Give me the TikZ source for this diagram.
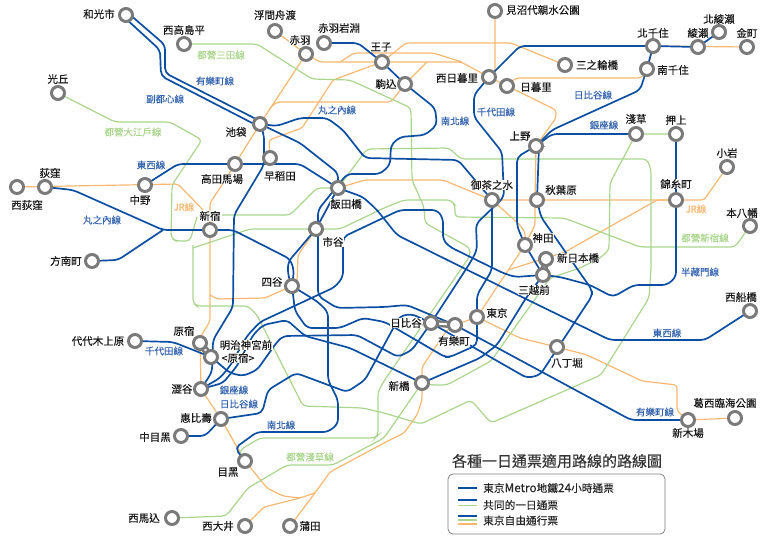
\documentclass[tikz,border=0pt]{standalone}
\usepackage{fontspec}
\setmainfont{Noto Sans CJK TC}
\newfontfamily\labfont[FakeBold=0.25]{Noto Sans CJK TC}
\pgfdeclarelayer{lines}
\pgfsetlayers{lines,main}
\definecolor{mblue}{HTML}{0B4EA2}
\definecolor{lblue}{HTML}{3464AE}
\definecolor{mgreen}{HTML}{A9D58C}
\definecolor{morange}{HTML}{F9B872}
\definecolor{sgray}{HTML}{7A7A7A}
\tikzset{
 x=1pt,y=-1pt,
 st/.style={circle,draw=sgray,line width=3pt,fill=white,minimum size=13pt,inner sep=0pt},
 lab/.style={font=\labfont\fontsize{10.5}{11}\selectfont,text=black!90,fill=white,inner sep=0.3pt},
 bll/.style={font=\labfont\fontsize{9.5}{10}\selectfont,text=lblue,inner sep=0pt},
 grl/.style={font=\labfont\fontsize{9.5}{10}\selectfont,text=mgreen,inner sep=0pt},
 orl/.style={font=\labfont\fontsize{9.5}{10}\selectfont,text=morange,inner sep=0pt},
 bl/.style={draw=mblue,line width=1.7pt,rounded corners=5pt},
 gr/.style={draw=mgreen,line width=1.2pt,rounded corners=4pt},
 or/.style={draw=morange,line width=1.2pt,rounded corners=3pt},
 linkout/.style={draw=sgray,line width=7pt},
 linkin/.style={draw=white,line width=2pt},
 keyt/.style={font=\labfont\fontsize{10.7}{11}\selectfont,text=black!85,inner sep=0pt,anchor=west},
}
\begin{document}
\begin{tikzpicture}
\useasboundingbox (0,0) rectangle (768,538);
% labels
\node[lab] (t1) at (99,14) {和光市};
\node[lab] (t2) at (184,30) {西高島平};
\node[lab] (t3) at (275,15) {浮間舟渡};
\node[lab] (t4) at (300,40) {赤羽};
\node[lab] (t5) at (339,28) {赤羽岩淵};
\node[lab] (t6) at (381,47) {王子};
\node[lab] (t7) at (386,84) {駒込};
\node[lab] (t8) at (543,10) {見沼代親水公園};
\node[lab] (t9) at (597,65) {三之輪橋};
\node[lab] (t10) at (457,78) {西日暮里};
\node[lab] (t11) at (536,87) {日暮里};
\node[lab] (t12) at (653,33) {北千住};
\node[lab] (t13) at (698,33) {綾瀨};
\node[lab] (t14) at (719,19) {北綾瀨};
\node[lab] (t15) at (747,33) {金町};
\node[lab] (t16) at (673,70) {南千住};
\node[lab] (t17) at (58,79) {光丘};
\node[lab] (t18) at (236,132) {池袋};
\node[lab] (t19) at (222,179) {高田馬場};
\node[lab] (t20) at (280,176) {早稻田};
\node[lab] (t21) at (50,173) {荻窪};
\node[lab] (t22) at (27,205) {西荻窪};
\node[lab] (t23) at (140,200) {中野};
\node[lab] (t24) at (210,216) {新宿};
\node[lab] (t25) at (346,204) {飯田橋};
\node[lab] (t26) at (333,242) {市谷};
\node[lab] (t27) at (66,261) {方南町};
\node[lab] (t28) at (520,136) {上野};
\node[lab] (t29) at (492,185) {御茶之水};
\node[lab] (t30) at (561,190) {秋葉原};
\node[lab] (t31) at (636,119) {淺草};
\node[lab] (t32) at (676,120) {押上};
\node[lab] (t33) at (676,184) {錦糸町};
\node[lab] (t34) at (727,153) {小岩};
\node[lab] (t35) at (742,213) {本八幡};
\node[lab] (t36) at (543,238) {神田};
\node[lab] (t37) at (578,258) {新日本橋};
\node[lab] (t38) at (534,290) {三越前};
\node[lab] (t39) at (272,282) {四谷};
\node[lab] (t40) at (98,341) {代代木上原};
\node[lab] (t41) at (184,331) {原宿};
\node[lab] (t42) at (246,345) {明治神宮前};
\node[lab] (t43) at (238,358) {<原宿>};
\node[lab] (t44) at (182,389) {澀谷};
\node[lab] (t45) at (196,418) {惠比壽};
\node[lab] (t46) at (155,437) {中目黑};
\node[lab] (t47) at (228,472) {目黑};
\node[lab] (t48) at (144,518) {西馬込};
\node[lab] (t49) at (218,526) {西大井};
\node[lab] (t50) at (310,526) {蒲田};
\node[lab] (t51) at (406,323) {日比谷};
\node[lab] (t52) at (454,341) {有樂町};
\node[lab] (t53) at (497,313) {東京};
\node[lab] (t54) at (399,386) {新橋};
\node[lab] (t55) at (567,363) {八丁堀};
\node[lab] (t56) at (688,433) {新木場};
\node[lab] (t57) at (725,403) {葛西臨海公園};
\node[lab] (t58) at (741,297) {西船橋};
% line labels
\node[grl] (n1) at (221,55) {都營三田線};
\node[bll] (n2) at (215,81) {有樂町線};
\node[bll] (n3) at (165,99) {副都心線};
\node[grl] (n4) at (133,132) {都營大江戶線};
\node[bll] (n5) at (337,110) {丸之內線};
\node[bll] (n6) at (151,165) {東西線};
\node[orl] (n7) at (184,207) {JR線};
\node[bll] (n8) at (102,220) {丸之內線};
\node[bll] (n9) at (455,121) {南北線};
\node[bll] (n10) at (496,112) {千代田線};
\node[bll] (n11) at (593,95) {日比谷線};
\node[bll] (n12) at (604,125) {銀座線};
\node[orl] (n13) at (696,209) {JR線};
\node[grl] (n14) at (705,238) {都營新宿線};
\node[bll] (n15) at (700,272) {半藏門線};
\node[bll] (n16) at (667,333) {東西線};
\node[bll] (n17) at (655,412) {有樂町線};
\node[bll] (n18) at (164,351) {千代田線};
\node[bll] (n19) at (234,390) {銀座線};
\node[bll] (n20) at (239,404) {日比谷線};
\node[bll] (n21) at (281,425) {南北線};
\node[grl] (n22) at (310,457) {都營淺草線};
% title and legend
\node[font=\labfont\fontsize{15}{16}\selectfont,text=black!80,inner sep=0pt] (title) at (557,461) {各種一日通票適用路線的路線圖};
\node[draw=black!50,line width=0.8pt,rounded corners=5pt,minimum width=217pt,minimum height=60pt,inner sep=0pt] (legend) at (556.5,504) {};
\node[keyt] (k1) at (483,488) {東京{\fontsize{11.8}{11}\selectfont Metro}地鐵{\fontsize{11.8}{11}\selectfont 24}小時通票};
\node[keyt] (k2) at (483,505) {共同的一日通票};
\node[keyt] (k3) at (483,520.5) {東京自由通行票};
\coordinate (ka) at (458,488); \coordinate (kb) at (477,488);
\coordinate (kc) at (458,500); \coordinate (kd) at (477,500);
\coordinate (ke) at (458,505); \coordinate (kf) at (477,505);
\coordinate (kg) at (458,516); \coordinate (kh) at (477,516);
\coordinate (ki) at (458,520); \coordinate (kj) at (477,520);
\coordinate (kk) at (458,524); \coordinate (kl) at (477,524);
\draw[draw=mblue,line width=1.2pt] (ka) -- (kb);
\draw[draw=mblue,line width=1.5pt] (kc) -- (kd);
\draw[draw=mgreen,line width=1pt] (ke) -- (kf);
\draw[draw=mblue,line width=1.8pt] (kg) -- (kh);
\draw[draw=mgreen,line width=1.2pt] (ki) -- (kj);
\draw[draw=morange,line width=1.2pt] (kk) -- (kl);
% dumbbell links are drawn under the stations
\coordinate (dA) at (431,323); \coordinate (dB) at (455,325);
\coordinate (dC) at (200,343); \coordinate (dD) at (211,357);
\coordinate (dE) at (546,259); \coordinate (dF) at (543,275);
\draw[linkout] (dA) -- (dB); \draw[linkin] (dA) -- (dB);
\draw[linkout] (dC) -- (dD); \draw[linkin] (dC) -- (dD);
\draw[linkout] (dE) -- (dF); \draw[linkin] (dE) -- (dF);
% stations
\node[st] (wako) at (126,15) {};
\node[st] (nishitaka) at (184,44) {};
\node[st] (ukima) at (275,31) {};
\node[st] (akabane) at (306,54) {};
\node[st] (iwabuchi) at (324,43) {};
\node[st] (oji) at (382,62) {};
\node[st] (komagome) at (405,84) {};
\node[st] (nnippori) at (489,77) {};
\node[st] (nippori) at (507,86) {};
\node[st] (minuma) at (495,11) {};
\node[st] (minowa) at (565,65) {};
\node[st] (kitasenju) at (653,46) {};
\node[st] (minami) at (647,69) {};
\node[st] (ayase) at (698,47) {};
\node[st] (kitaayase) at (719,32) {};
\node[st] (kanamachi) at (747,47) {};
\node[st] (hikari) at (58,93) {};
\node[st] (ike) at (260,124) {};
\node[st] (baba) at (235,164) {};
\node[st] (waseda) at (270,158) {};
\node[st] (ogikubo) at (45,187) {};
\node[st] (nishiogi) at (17,187) {};
\node[st] (nakano) at (145,185) {};
\node[st] (shinjuku) at (210,230) {};
\node[st] (iida) at (338,188) {};
\node[st] (ichigaya) at (316,229) {};
\node[st] (honan) at (92,261) {};
\node[st] (ueno) at (536,146) {};
\node[st] (ocha) at (492,200) {};
\node[st] (akiba) at (537,200) {};
\node[st] (asakusa) at (636,134) {};
\node[st] (oshiage) at (676,134) {};
\node[st] (kinshi) at (676,200) {};
\node[st] (koiwa) at (727,167) {};
\node[st] (motoyawata) at (750,226) {};
\node[st] (kanda) at (525,245) {};
\node[st] (shinnihon) at (546,259) {};
\node[st] (mitsukoshi) at (543,275) {};
\node[st] (yotsuya) at (292,286) {};
\node[st] (yoyogi) at (135,341) {};
\node[st] (harajuku) at (200,343) {};
\node[st] (meiji) at (211,357) {};
\node[st] (shibuya) at (201,389) {};
\node[st] (ebisu) at (221,419) {};
\node[st] (nakameguro) at (181,436) {};
\node[st] (meguro) at (245,461) {};
\node[st] (magome) at (172,518) {};
\node[st] (ooi) at (245,526) {};
\node[st] (kamata) at (290,526) {};
\node[st] (hibiya) at (431,323) {};
\node[st] (yuraku) at (455,325) {};
\node[st] (tokyo) at (477,317) {};
\node[st] (shinbashi) at (422,383) {};
\node[st] (hatcho) at (557,347) {};
\node[st] (shinkiba) at (688,420) {};
\node[st] (kasai) at (735,418) {};
\node[st] (funabashi) at (750,311) {};
\begin{pgfonlayer}{lines}
% orange
\draw[or] (ukima.center) -- (akabane.center) -- (ike.center) -- (baba.center) -- (222,185) -- (210,203) -- (shinjuku.center) -- (210,321) -- (200,338) -- (shibuya.center) -- (ebisu.center) -- (meguro.center) -- (267,488) -- (283,496) -- (300,498) -- (315,493) -- (330,472) -- (384,443) -- (404,433) -- (417,415) -- (422,400) -- (shinbashi.center) -- (422,367) -- (447,330) -- (yuraku.center) -- (tokyo.center) -- (kanda.center) -- (535,225) -- (535,200) -- (ueno.center) -- (556,118) -- (556,110) -- (nnippori.center) -- (461,62) -- (382,62) -- (320,62) -- (akabane.center);
\draw[or] (nishiogi.center) -- (178,184) -- (203,210);
\draw[or] (210,295) -- (217,299) -- (265,298) -- (yotsuya.center) -- (297,283) -- (298,255) -- (ichigaya.center) -- (iida.center) -- (365,180) -- (443,180) -- (ocha.center) -- (520,225) -- (525,232) -- (kanda.center);
\draw[or] (ocha.center) -- (akiba.center) -- (kinshi.center) -- (704,200) -- (koiwa.center);
\draw[or] (508,270) -- (565,252) -- (657,200) -- (kinshi.center);
\draw[or] (340,62) -- (354,53) -- (433,53) -- (462,62);
\draw[or] (oji.center) -- (406,43) -- (511,43) -- (minowa.center);
\draw[or] (427,62) -- (komagome.center) -- (391,102) -- (277,102) -- (270,108);
\draw[or] (oji.center) -- (333,80) -- (302,128) -- (269,140) -- (waseda.center);
\draw[or] (minuma.center) -- (495,75) -- (nnippori.center);
\draw[or] (nippori.center) -- (516,78) -- (640,78) -- (647,73) -- (kitasenju.center);
\draw[or] (kitasenju.center) -- (kanamachi.center);
\draw[or] (tokyo.center) -- (520,338) -- (hatcho.center) -- (587,355) -- (642,381) -- (677,385) -- (677,411) -- (shinkiba.center) -- (kasai.center);
\draw[or] (ooi.center) -- (264,507) -- (300,498);
\draw[or] (kamata.center) -- (315,493);
% green
\draw[gr] (nishitaka.center) -- (257,44) -- (312,79) -- (350,80) -- (411,108) -- (412,180) -- (424,207) -- (425,223) -- (470,248) -- (470,256) -- (384,381) -- (378,392) -- (378,435) -- (375,438) -- (260,438) -- (240,450) -- (240,455);
\draw[gr] (magome.center) -- (226,516) -- (248,488) -- (287,465) -- (333,465) -- (384,438) -- (shinbashi.center) -- (432,385) -- (447,385) -- (491,361) -- (550,278) -- (580,268) -- (600,258) -- (609,250) -- (610,183) -- (asakusa.center) -- (oshiage.center);
\draw[gr] (hikari.center) -- (115,122) -- (170,122) -- (202,140) -- (172,185) -- (171,238) -- (176,241) -- (190,241) -- (197,217);
\draw[gr] (222,215) -- (290,215) -- (317,188) -- (iida.center) -- (367,149) -- (449,148) -- (461,159) -- (647,159) -- (651,170) -- (651,268) -- (649,298) -- (601,375) -- (491,423) -- (471,400) -- (421,424) -- (384,413) -- (363,408) -- (303,406) -- (257,315) -- (248,306) -- (197,306) -- (193,303) -- (193,245);
\draw[gr] (193,248) -- (250,229) -- (340,229) -- (384,208) -- (404,200) -- (451,200) -- (455,205) -- (455,217) -- (564,218) -- (640,247) -- (735,247) -- (motoyawata.center);
% blue
\draw[bl] ([shift={(2,-2)}]wako.center) -- (165,45) -- (165,73) -- ([shift={(2,-2)}]ike.center);
\draw[bl] ([shift={(-2,2)}]wako.center) -- (160,50) -- (161,76) -- ([shift={(-2,2)}]ike.center);
\draw[bl] (ike.center) -- (264,135) -- (264,165) -- (234,215) -- (233,307) -- (213,340) -- (212,372) -- (shibuya.center);
\draw[bl] (ike.center) -- (300,143) -- (338,173) -- (iida.center) -- (ichigaya.center) -- (288,262) -- (288,275) -- (yotsuya.center) -- (318,302) -- (328,312) -- (328,380) -- (338,400) -- (338,424) -- (328,432) -- (257,432) -- (235,448) -- (meguro.center);
\draw[bl] (iwabuchi.center) -- (358,43) -- (oji.center) -- (komagome.center) -- (435,108) -- (437,125) -- (425,135) -- (400,137) -- (391,145) -- (390,165) -- (380,174) -- (347,174) -- (318,210) -- (318,296) -- (337,308) -- (384,307) -- (407,305) -- (yuraku.center) -- (631,420) -- (shinkiba.center);
\draw[bl] (ogikubo.center) -- (73,190) -- (163,230) -- (shinjuku.center) -- (233,230) -- (290,259) -- (294,270) -- (yotsuya.center) -- (295,311) -- (307,328) -- (340,328) -- (363,318) -- (385,322) -- (445,357) -- (450,357) -- (477,345) -- (tokyo.center) -- (477,295) -- (492,270) -- (ocha.center) -- (458,160) -- (365,158) -- (343,130) -- (327,118) -- (300,118) -- (277,126) -- (ike.center);
\draw[bl] (honan.center) -- (118,260) -- (163,230);
\draw[bl] (nakano.center) -- (178,164) -- (baba.center) -- (300,164) -- (iida.center) -- (363,197) -- (377,210) -- (397,235) -- (526,299) -- (610,340) -- (705,340) -- (funabashi.center);
\draw[bl] (shibuya.center) -- (223,383) -- (237,366) -- (253,335) -- (263,325) -- (287,320) -- (305,336) -- (350,348) -- (shinbashi.center) -- (480,358) -- (497,345) -- (526,298) -- (mitsukoshi.center) -- (kanda.center) -- (517,226) -- (517,157) -- (ueno.center) -- (552,134) -- (asakusa.center);
\draw[bl] (shibuya.center) -- (220,378) -- (230,366) -- (247,336) -- (260,322) -- (335,287) -- (343,277) -- (343,237) -- (400,210) -- (437,210) -- (443,218) -- (443,240) -- (450,247) -- (503,273) -- (515,277) -- (mitsukoshi.center) -- (560,277) -- (590,285) -- (613,297) -- (634,285) -- (667,285) -- (676,277) -- (kinshi.center) -- (oshiage.center);
\draw[bl] (yoyogi.center) -- (173,342) -- (meiji.center) -- (230,373) -- (243,376) -- (257,370) -- (277,342) -- (283,336) -- (357,335) -- (398,357) -- (412,350) -- (hibiya.center) -- (470,263) -- (477,250) -- (476,224) -- (504,197) -- (502,152) -- (474,117) -- (474,95) -- (nnippori.center) -- (520,46) -- (kitasenju.center) -- (ayase.center) -- (kitaayase.center);
\draw[bl] (nakameguro.center) -- (205,436) -- (ebisu.center) -- (262,413) -- (268,390) -- (296,373) -- (347,392) -- (365,380) -- (395,325) -- (400,316) -- (412,314) -- (hibiya.center) -- (527,378) -- (540,375) -- (592,296) -- (592,290) -- (541,217) -- (akiba.center) -- (539,146) -- (ueno.center) -- (552,130) -- (640,90) -- (minami.center) -- (kitasenju.center);
\end{pgfonlayer}
\end{tikzpicture}
\end{document}
